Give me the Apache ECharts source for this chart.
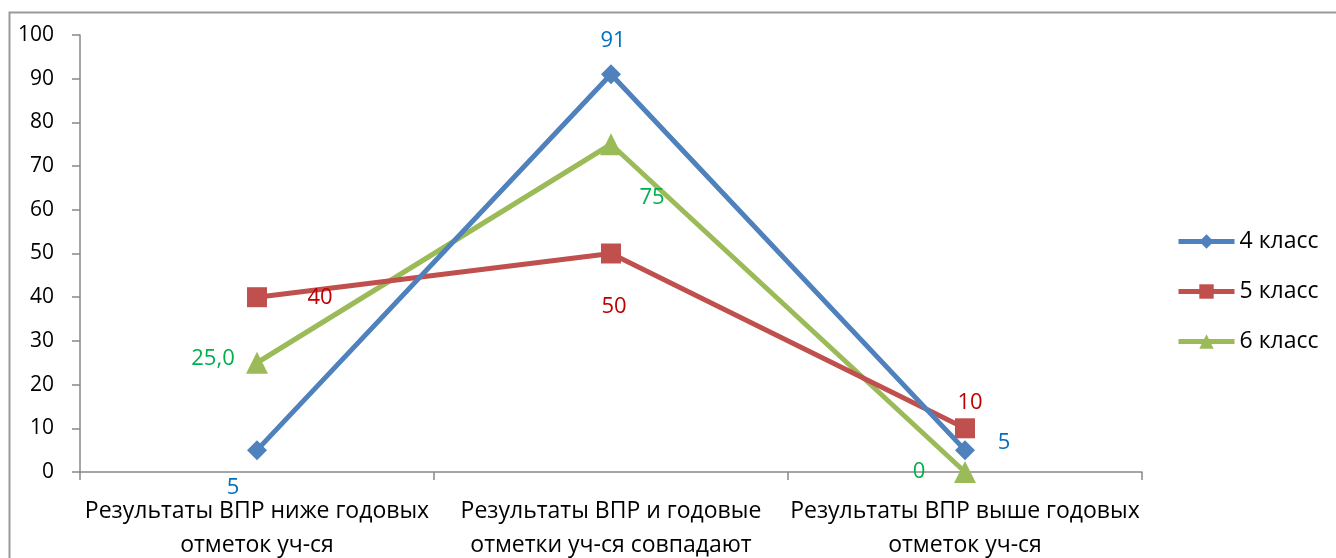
<!DOCTYPE html>
<html>
<head>
<meta charset="utf-8">
<script src="https://cdn.jsdelivr.net/npm/echarts@6/dist/echarts.min.js"></script>
<style>
html,body{margin:0;padding:0;background:#fff;overflow:hidden;}
#chart{width:1336px;height:558px;}
</style>
</head>
<body>
<div id="chart"></div>
<script>
const categories = [
  'Результаты ВПР ниже годовых\nотметок уч-ся',
  'Результаты ВПР и годовые\nотметки уч-ся совпадают',
  'Результаты ВПР выше годовых\nотметок уч-ся'
];
const seriesNames = ['4 класс', '5 класс', '6 класс'];
const values4 = [5, 91, 5];
const values5 = [40, 50, 10];
const values6 = [25, 75, 0];
const labels4 = ['5', '91', '5'];
const labels5 = ['40', '50', '10'];
const labels6 = ['25,0', '75', '0'];
const yTicks = {min: 0, max: 100, interval: 10};

const FONT = 'Open Sans';
const lineColors = ['#4F81BD', '#C0504D', '#9BBB59'];
const labelColors = ['#0070C0', '#C00000', '#00B050'];
const symbols = ['diamond', 'rect', 'triangle'];
const symbolSizes = [20, 20, 22];
// label offsets (px) relative to each point, per series
const labelOffsets = [
  [[-24, 38], [2, -34], [39, -7]],
  [[63, 1], [3, 53], [5, -26]],
  [[-44, -4], [41, 53], [-46, 0]]
];

const allValues = [values4, values5, values6];
const allLabels = [labels4, labels5, labels6];

const series = allValues.map((vals, si) => ({
  name: seriesNames[si],
  type: 'line',
  data: vals.map((v, i) => ({
    value: v,
    label: {
      show: true,
      position: 'inside',
      offset: labelOffsets[si][i],
      formatter: allLabels[si][i]
    }
  })),
  symbol: symbols[si],
  symbolSize: symbolSizes[si],
  lineStyle: {color: lineColors[si], width: 5},
  itemStyle: {color: lineColors[si]},
  label: {
    color: labelColors[si],
    fontFamily: FONT,
    fontSize: 22
  },
  emphasis: {disabled: true},
  animation: false,
  z: 3 - si
}));

const chart = echarts.init(document.getElementById('chart'), null, {renderer: 'canvas'});
chart.setOption({
  backgroundColor: '#fff',
  animation: false,
  graphic: [{
    type: 'rect',
    shape: {x: 9.5, y: 12.5, width: 1500, height: 700},
    style: {fill: 'none', stroke: '#999', lineWidth: 2},
    silent: true
  }],
  grid: {left: 80, right: 194, top: 35, bottom: 86, containLabel: false, outerBoundsMode: 'none'},
  legend: {
    orient: 'vertical',
    left: 1176,
    top: 230,
    padding: 0,
    itemWidth: 56,
    itemHeight: 18,
    itemGap: 27,
    lineStyle: {width: 5},
    textStyle: {fontFamily: FONT, fontSize: 23, color: '#000', padding: [0, 0, 0, 0]},
    data: seriesNames
  },
  xAxis: {
    type: 'category',
    data: categories,
    boundaryGap: true,
    axisLine: {lineStyle: {color: '#888', width: 1.5}},
    axisTick: {show: true, length: 8, lineStyle: {color: '#888', width: 1.5}},
    axisLabel: {
      interval: 0,
      margin: 22,
      color: '#000',
      fontFamily: FONT,
      fontSize: 23,
      lineHeight: 34
    },
    splitLine: {show: false}
  },
  yAxis: {
    type: 'value',
    min: yTicks.min,
    max: yTicks.max,
    interval: yTicks.interval,
    axisLine: {show: true, lineStyle: {color: '#888', width: 1.5}},
    axisTick: {show: true, length: 8, lineStyle: {color: '#888', width: 1.5}},
    axisLabel: {color: '#000', fontFamily: FONT, fontSize: 21, margin: 26},
    splitLine: {show: false}
  },
  series: series
});
</script>
</body>
</html>
